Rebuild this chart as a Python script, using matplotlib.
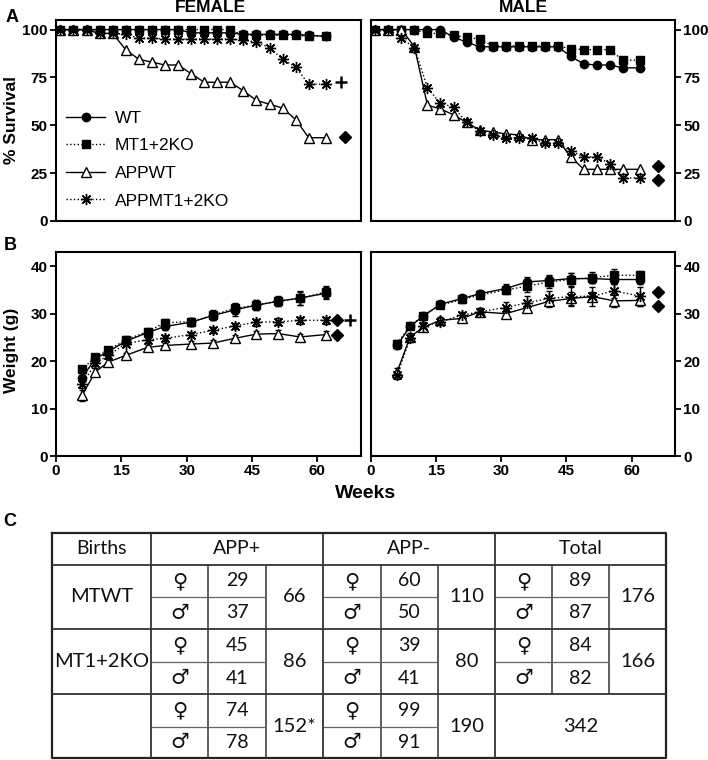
import matplotlib
matplotlib.use('Agg')
import matplotlib.pyplot as plt
from matplotlib.lines import Line2D

plt.rcParams['font.family'] = ['Liberation Sans', 'DejaVu Sans']
plt.rcParams['font.weight'] = 'bold'

# ---- survival data (% alive) ----
weeks_surv = [1, 4, 7, 10, 13, 16, 19, 22, 25, 28, 31, 34, 37, 40, 43, 46, 49, 52, 55, 58, 62]

wt_f = [100, 100, 100, 100, 100, 100, 100, 100, 100, 100, 98.3, 98.3, 98.3, 98.3,
        97.5, 97.5, 97.5, 97.5, 97.5, 97, 96.5]
mt_f = [100, 100, 100, 100, 100, 100, 100, 100, 100, 100, 100, 100, 100, 100,
        97, 97, 97, 97, 97, 96.5, 96.5]
appwt_f = [100, 100, 100, 98, 98, 89.5, 84.5, 83, 81.5, 81.5, 77, 72.5, 72.5, 72.5,
           68, 63, 61, 59, 53, 43.5, 43.5]
appmt_f = [100, 100, 100, 98, 98, 97.5, 95.5, 95.5, 95, 95, 95, 95, 95, 95,
           94.5, 93.5, 90.5, 84.5, 80.5, 71.5, 71.5]

wt_m = [100, 100, 100, 100, 100, 100, 96, 93.5, 91, 91, 91, 91, 91, 91,
        91, 86, 82, 81.5, 81.5, 80, 80]
mt_m = [100, 100, 100, 100, 98, 98, 97, 96, 95, 91.5, 91.5, 91.5, 91.5, 91.5,
        91.5, 90, 89.5, 89.5, 89.5, 84, 84]
appwt_m = [100, 100, 100, 91, 60.5, 58.5, 55.5, 51.5, 47.5, 46.5, 45.5, 45, 42.5, 42.5,
           42.5, 33.5, 27, 27, 27, 27, 27]
appmt_m = [100, 100, 95.5, 90.5, 69.5, 61.5, 59.5, 51.5, 47, 45, 43.5, 43.5, 43.5, 40.5,
           40.5, 36.5, 33.5, 33.5, 30, 22.5, 22.5]

# ---- weight data (g) ----
weeks_w = [6, 9, 12, 16, 21, 25, 31, 36, 41, 46, 51, 56, 62]

wt_fw = [16.5, 20.5, 22.0, 24.2, 26.0, 27.3, 28.2, 29.6, 30.8, 31.8, 32.6, 33.3, 34.3]
mt_fw = [18.3, 20.8, 22.3, 24.5, 26.2, 28.1, 28.3, 29.7, 31.1, 31.8, 32.7, 33.2, 34.6]
appwt_fw = [12.8, 17.7, 19.8, 21.2, 22.9, 23.3, 23.6, 23.8, 24.8, 25.7, 25.8, 25.1, 25.6]
appmt_fw = [15.1, 19.5, 21.2, 23.7, 24.5, 24.8, 25.6, 26.5, 27.4, 28.2, 28.3, 28.6, 28.6]
wt_fw_err = [0.6, 0.6, 0.6, 0.7, 0.8, 0.8, 0.8, 1.0, 1.2, 1.0, 1.0, 1.5, 1.3]
mt_fw_err = [0.6, 0.6, 0.6, 0.7, 0.8, 0.8, 0.8, 1.0, 1.2, 1.1, 1.0, 1.4, 1.3]
appwt_fw_err = [1.2, 0.8, 0.6, 0.6, 0.6, 0.6, 0.6, 0.6, 0.6, 0.7, 0.7, 0.7, 0.7]
appmt_fw_err = [0.8, 0.6, 0.6, 0.6, 0.6, 0.6, 0.6, 0.6, 0.7, 0.7, 0.7, 0.7, 0.7]

wt_mw = [23.3, 27.3, 29.5, 32.0, 33.2, 34.2, 35.3, 36.7, 37.0, 37.4, 37.4, 37.2, 37.2]
mt_mw = [23.7, 27.4, 29.5, 31.8, 33.0, 33.9, 35.0, 35.8, 36.7, 37.2, 37.6, 38.1, 38.1]
appwt_mw = [17.7, 25.1, 27.1, 28.6, 29.0, 30.4, 30.0, 31.3, 32.6, 33.2, 33.6, 32.7, 32.8]
appmt_mw = [17.0, 24.8, 27.4, 28.3, 29.7, 30.4, 31.3, 32.3, 33.2, 33.6, 33.7, 34.8, 33.7]
wt_mw_err = [0.8, 0.6, 0.6, 0.5, 0.6, 0.8, 1.0, 1.0, 1.2, 1.2, 1.0, 1.0, 1.0]
mt_mw_err = [0.8, 0.6, 0.5, 0.6, 0.7, 0.8, 0.9, 1.2, 1.3, 1.4, 1.2, 1.4, 1.0]
appwt_mw_err = [0.8, 0.8, 0.7, 0.8, 0.7, 0.8, 1.0, 1.0, 1.2, 1.4, 1.0, 1.2, 1.2]
appmt_mw_err = [0.8, 0.8, 0.8, 0.7, 0.7, 0.8, 1.2, 1.4, 1.5, 2.0, 2.0, 1.5, 2.0]

# significance symbols: (week, value)
sig_surv_f_diamond = [(66.3, 44)]
sig_surv_f_plus = [(65.5, 72.5)]
sig_surv_m_diamond = [(66, 28.5), (66, 21.5)]
sig_w_f_diamond = [(64.5, 28.6), (64.5, 25.4)]
sig_w_f_plus = [(67.5, 28.6)]
sig_w_m_diamond = [(66, 34.5), (66, 31.6)]

# ---- births table ----
headers = ['Births', 'APP+', 'APP-', 'Total']
genotypes = ['MTWT', 'MT1+2KO', '']
app_pos_f = ['29', '45', '74']
app_pos_m = ['37', '41', '78']
app_pos_tot = ['66', '86', '152*']
app_neg_f = ['60', '39', '99']
app_neg_m = ['50', '41', '91']
app_neg_tot = ['110', '80', '190']
all_f = ['89', '84']
all_m = ['87', '82']
all_tot = ['176', '166']
grand_total = '342'

names = ['WT', 'MT1+2KO', 'APPWT', 'APPMT1+2KO']
styles = {
    'WT': dict(marker='o', ls='-', mfc='black', ms=6),
    'MT1+2KO': dict(marker='s', ls=':', mfc='black', ms=6),
    'APPWT': dict(marker='^', ls='-', mfc='white', ms=7),
    'APPMT1+2KO': dict(marker=(8, 2, 0), ls=':', mfc='black', ms=8),
}

W, H = 708, 760
fig = plt.figure(figsize=(W / 100, H / 100), dpi=100)


def px_axes(x0, y0, x1, y1):
    return fig.add_axes([x0 / W, 1 - y1 / H, (x1 - x0) / W, (y1 - y0) / H])


ax_sf = px_axes(56, 20, 361, 221)
ax_sm = px_axes(371, 20, 675, 221)
ax_wf = px_axes(56, 252, 361, 456)
ax_wm = px_axes(371, 252, 675, 456)

for ax, series in [(ax_sf, [wt_f, mt_f, appwt_f, appmt_f]),
                   (ax_sm, [mt_m, wt_m, appwt_m, appmt_m])]:
    order = names if ax is ax_sf else ['MT1+2KO', 'WT', 'APPWT', 'APPMT1+2KO']
    for name, vals in zip(order, series):
        ax.plot(weeks_surv, vals, color='black', lw=1, mec='black', mew=1, **styles[name])

for ax, series, errs in [(ax_wf, [wt_fw, mt_fw, appwt_fw, appmt_fw],
                          [wt_fw_err, mt_fw_err, appwt_fw_err, appmt_fw_err]),
                         (ax_wm, [wt_mw, mt_mw, appwt_mw, appmt_mw],
                          [wt_mw_err, mt_mw_err, appwt_mw_err, appmt_mw_err])]:
    for name, vals, err in zip(names, series, errs):
        ax.errorbar(weeks_w, vals, yerr=err, color='black', lw=1, mec='black', mew=1,
                    elinewidth=1, capsize=2.5, capthick=1, **styles[name])

for ax, pts in [(ax_sf, sig_surv_f_diamond), (ax_sm, sig_surv_m_diamond),
                (ax_wf, sig_w_f_diamond), (ax_wm, sig_w_m_diamond)]:
    ax.plot([p[0] for p in pts], [p[1] for p in pts], 'D', color='black', ms=6, clip_on=False)
for ax, pts in [(ax_sf, sig_surv_f_plus), (ax_wf, sig_w_f_plus)]:
    ax.plot([p[0] for p in pts], [p[1] for p in pts], '+', color='black', ms=8, mew=1.8,
            clip_on=False)

for ax in [ax_sf, ax_sm, ax_wf, ax_wm]:
    ax.set_xlim(0, 70)
    for s in ax.spines.values():
        s.set_linewidth(1.5)
    ax.tick_params(direction='out', length=4, width=1.3, labelsize=11, pad=2)

for ax in [ax_sf, ax_sm]:
    ax.set_ylim(0, 105)
    ax.set_yticks([0, 25, 50, 75, 100])
    ax.tick_params(bottom=False, labelbottom=False)

for ax in [ax_wf, ax_wm]:
    ax.set_ylim(0, 43)
    ax.set_yticks([0, 10, 20, 30, 40])
    ax.set_xticks([0, 15, 30, 45, 60])

for ax in [ax_sm, ax_wm]:
    ax.yaxis.tick_right()

handles = [Line2D([], [], color='black', lw=1, mec='black', **styles[n]) for n in names]
ax_sf.legend(handles, names, loc='lower left', bbox_to_anchor=(0.0, 0.01), frameon=False,
             prop=dict(size=12.5, weight='normal'), handlelength=2.2, labelspacing=0.72,
             handletextpad=0.6, borderaxespad=0.2)

fig.text(210 / W, 1 - 8 / H, 'FEMALE', ha='center', va='center', fontsize=12.5)
fig.text(523 / W, 1 - 8 / H, 'MALE', ha='center', va='center', fontsize=12.5)
fig.text(12 / W, 1 - 17 / H, 'A', ha='center', va='center', fontsize=13)
fig.text(10 / W, 1 - 245 / H, 'B', ha='center', va='center', fontsize=13)
fig.text(10 / W, 1 - 521 / H, 'C', ha='center', va='center', fontsize=13)
fig.text(12 / W, 1 - 120 / H, '% Survival', ha='center', va='center', rotation=90, fontsize=12.5)
fig.text(12 / W, 1 - 350 / H, 'Weight (g)', ha='center', va='center', rotation=90, fontsize=12.5)
fig.text(366 / W, 1 - 493 / H, 'Weeks', ha='center', va='center', fontsize=14)

# ---- table, drawn on a pixel-coordinate overlay ----
tax = fig.add_axes([0, 0, 1, 1])
tax.set_xlim(0, W)
tax.set_ylim(H, 0)
tax.axis('off')

cx = [52, 151, 208, 266, 323, 381, 438, 495, 552, 609, 666]
ry = [533, 565, 597, 629, 662, 694, 727, 758]
tfont = ['Lato', 'DejaVu Sans']


def hline(x0, x1, y, lw=1.3, c='#333333'):
    tax.plot([x0, x1], [y, y], color=c, lw=lw, solid_capstyle='butt')


def vline(x, y0, y1, lw=1.3, c='#333333'):
    tax.plot([x, x], [y0, y1], color=c, lw=lw, solid_capstyle='butt')


def cell_text(x, y, s, size=14, family=tfont):
    tax.text(x, y, s, ha='center', va='center', fontsize=size, family=family,
             fontweight='normal', color='#111111')


# outer frame and main grid
tax.plot([cx[0], cx[-1], cx[-1], cx[0], cx[0]], [ry[0], ry[0], ry[-1], ry[-1], ry[0]],
         color='#222222', lw=1.6)
for y in [ry[1], ry[3], ry[5]]:
    hline(cx[0], cx[-1], y)
for x in [cx[1], cx[4], cx[7]]:
    vline(x, ry[0], ry[-1])
for g in range(3):
    base = 1 + 3 * g
    for x in [cx[base + 1], cx[base + 2]]:
        y_end = ry[5] if g == 2 else ry[-1]
        vline(x, ry[1], y_end, lw=1.1)
    for k, ysplit in enumerate([ry[2], ry[4], ry[6]]):
        if g == 2 and k == 2:
            continue
        hline(cx[base], cx[base + 2], ysplit, lw=0.9, c='#666666')

# header
for i, h in enumerate(headers):
    x0 = cx[0] if i == 0 else cx[1 + 3 * (i - 1)]
    x1 = cx[1] if i == 0 else cx[4 + 3 * (i - 1)]
    cell_text((x0 + x1) / 2, (ry[0] + ry[1]) / 2, h)

# genotype labels
for r, gname in enumerate(genotypes):
    cell_text((cx[0] + cx[1]) / 2, (ry[1 + 2 * r] + ry[3 + 2 * r]) / 2, gname, size=14.5)

sym_font = ['DejaVu Sans']
groups = [(app_pos_f, app_pos_m, app_pos_tot), (app_neg_f, app_neg_m, app_neg_tot),
          (all_f, all_m, all_tot)]
for g, (fv, mv, tv) in enumerate(groups):
    base = 1 + 3 * g
    for r in range(len(fv)):
        yf = (ry[1 + 2 * r] + ry[2 + 2 * r]) / 2
        ym = (ry[2 + 2 * r] + ry[3 + 2 * r]) / 2
        cell_text((cx[base] + cx[base + 1]) / 2, yf, '\u2640', size=15, family=sym_font)
        cell_text((cx[base] + cx[base + 1]) / 2, ym, '\u2642', size=15, family=sym_font)
        cell_text((cx[base + 1] + cx[base + 2]) / 2, yf, fv[r])
        cell_text((cx[base + 1] + cx[base + 2]) / 2, ym, mv[r])
        cell_text((cx[base + 2] + cx[base + 3]) / 2, (ry[1 + 2 * r] + ry[3 + 2 * r]) / 2,
                  tv[r], size=14.5)
cell_text((cx[7] + cx[10]) / 2, (ry[5] + ry[7]) / 2, grand_total, size=14.5)

fig.savefig('out.png', dpi=100)
